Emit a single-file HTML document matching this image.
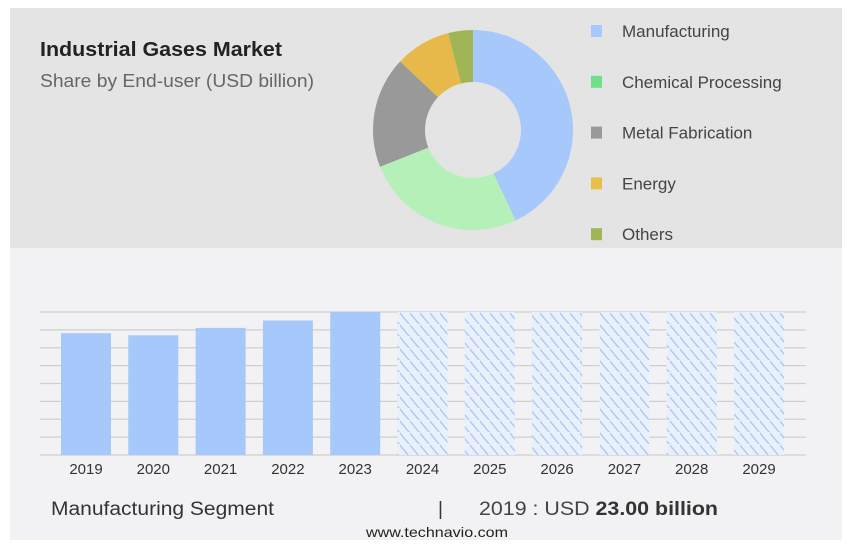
<!DOCTYPE html>
<html><head><meta charset="utf-8"><style>
body{margin:0;width:852px;height:546px;background:#fff;font-family:"Liberation Sans",sans-serif;overflow:hidden}
svg{display:block}
</style></head><body>
<svg width="852" height="546">
<defs>
<pattern id="hatch" patternUnits="userSpaceOnUse" width="10" height="12">
<rect width="10" height="12" fill="#eaf0fa"/>
<line x1="-2" y1="-1.2" x2="12" y2="15.6" stroke="#a6c8fa" stroke-width="1.3"/>
<line x1="-12" y1="-1.2" x2="2" y2="15.6" stroke="#a6c8fa" stroke-width="1.3"/>
</pattern>
</defs>
<rect x="10" y="8" width="832" height="240" fill="#e4e4e4"/>
<rect x="10" y="248" width="832" height="292" fill="#f2f2f4"/>
<text x="40" y="56" font-size="20" font-weight="bold" fill="#222" textLength="242" lengthAdjust="spacingAndGlyphs">Industrial Gases Market</text>
<text x="40" y="87" font-size="18" fill="#666" textLength="274" lengthAdjust="spacingAndGlyphs">Share by End-user (USD billion)</text>
<g id="donut"></g>
<g id="legend"></g>
<g id="grid"></g>
<g id="bars"></g>
<g id="xlabels"></g>
<text x="51" y="515" font-size="19" fill="#333" textLength="223" lengthAdjust="spacingAndGlyphs">Manufacturing Segment</text>
<text x="438" y="515" font-size="19" fill="#333">|</text>
<text x="479" y="515" font-size="19" fill="#444" textLength="239" lengthAdjust="spacingAndGlyphs">2019 : USD <tspan font-weight="bold" fill="#333">23.00 billion</tspan></text>
<text x="437" y="537" font-size="14" fill="#222" text-anchor="middle" textLength="142" lengthAdjust="spacingAndGlyphs">www.technavio.com</text>
</svg>
<script>
const segNames=["Manufacturing","Chemical Processing","Metal Fabrication","Energy","Others"];
const segShares=[43,26,18,9,4];
const segColors=["#a6c8fa","#b5f0b8","#999999","#e6b94a","#9fb556"];
const legendColors=["#a6c8fa","#6ee08a","#999999","#e6c04a","#9fb556"];
const years=["2019","2020","2021","2022","2023","2024","2025","2026","2027","2028","2029"];
const histValues=[23.0,22.6,24.0,25.4,27.0];
const forecastValues=[27,27,27,27,27,27];
const yMax=27;
const NS="http://www.w3.org/2000/svg";
function mk(t,a,p){const e=document.createElementNS(NS,t);for(const k in a)e.setAttribute(k,a[k]);p.appendChild(e);return e;}
const cx=473,cy=130,R=100,r=48;
const tot=segShares.reduce((a,b)=>a+b,0);
let ang=0;const dg=document.getElementById('donut');
function pt(rad,a){return [cx+rad*Math.sin(a),cy-rad*Math.cos(a)];}
segShares.forEach((v,i)=>{
 const a0=ang/tot*2*Math.PI;ang+=v;const a1=ang/tot*2*Math.PI;
 const lg=(a1-a0)>Math.PI?1:0;
 const [xa,ya]=pt(R,a0),[xb,yb]=pt(R,a1),[xc,yc]=pt(r,a1),[xd,yd]=pt(r,a0);
 const p=mk('path',{d:`M${xa},${ya}A${R},${R} 0 ${lg} 1 ${xb},${yb}L${xc},${yc}A${r},${r} 0 ${lg} 0 ${xd},${yd}Z`,fill:segColors[i]},dg);
 
 
});
const lgG=document.getElementById('legend');
segNames.forEach((n,i)=>{
 const y=31+i*50.8;
 const s=mk('rect',{x:591,y:y-6,width:11,height:12,fill:legendColors[i]},lgG);
 
 
 const t=mk('text',{x:622,y:y+6,'font-size':17,fill:'#444'},lgG);t.textContent=n;
 
 
});
const yBase=455,yTop=312,gx0=40,gx1=806;
function ys(v){return yBase-(v/yMax)*(yBase-yTop);}
const gg=document.getElementById('grid');
for(let i=0;i<=8;i++){const y=yTop+i*(yBase-yTop)/8;const l=mk('line',{x1:gx0,x2:gx1,y1:y,y2:y,stroke:'#cfcfcf','stroke-width':1.2},gg);
 
 }
const bg=document.getElementById('bars'),xg=document.getElementById('xlabels');
years.forEach((yr,i)=>{
 const x=61+i*67.3,w=50;
 const hist=i<histValues.length;
 const v=hist?histValues[i]:forecastValues[i-histValues.length];
 const b=mk('rect',{x:x,y:ys(v),width:w,height:yBase-ys(v),fill:hist?'#a6c8fa':'url(#hatch)'},bg);
 
 
 const t=mk('text',{x:x+w/2,y:474,'font-size':15,fill:'#333','text-anchor':'middle'},xg);t.textContent=yr;
 
 
});
</script>
</body></html>
